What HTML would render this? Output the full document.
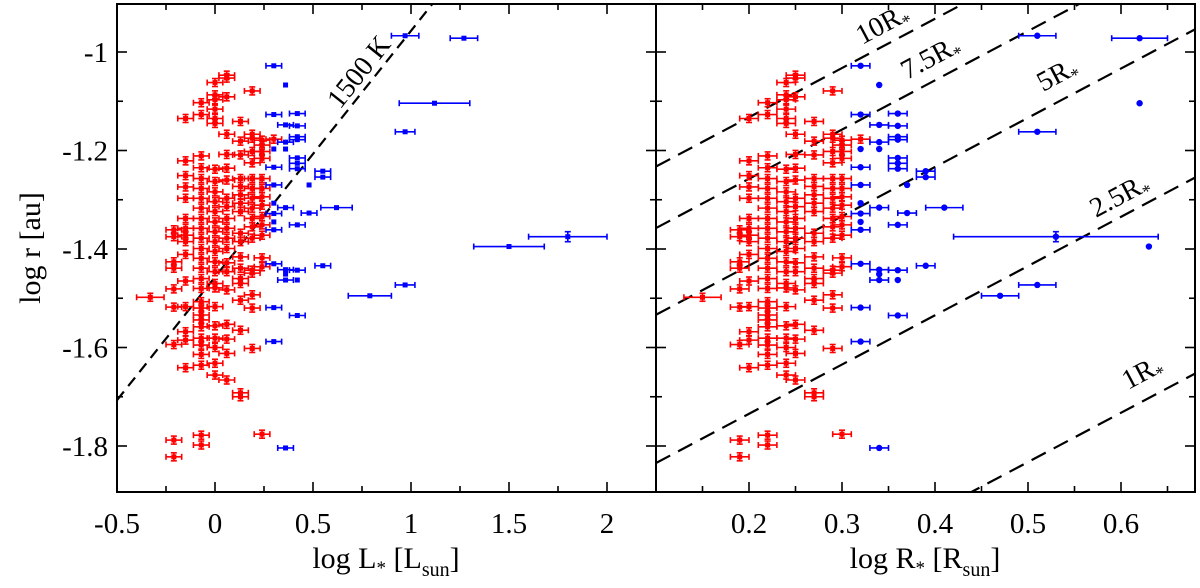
<!DOCTYPE html>
<html><head><meta charset="utf-8"><style>
html,body{margin:0;padding:0;background:#fff;width:1200px;height:588px;overflow:hidden;}
svg{display:block;}
svg text{font-family:"Liberation Serif","Times New Roman",serif;}
</style></head><body>
<svg id="chart" width="1200" height="588" viewBox="0 0 1200 588" xmlns="http://www.w3.org/2000/svg" font-family="Liberation Serif, serif">
<g id="marks"></g>
<g id="frame"></g>
<g id="labels">
<text transform="translate(40,248) rotate(-90)" text-anchor="middle" font-size="30">log r [au]</text>
<text x="386" y="568" text-anchor="middle" font-size="30">log L<tspan font-size="19" dy="6">*</tspan><tspan dy="-6"> [L</tspan><tspan font-size="20" dy="8">sun</tspan><tspan dy="-8">]</tspan></text>
<text x="925" y="568" text-anchor="middle" font-size="30">log R<tspan font-size="19" dy="6">*</tspan><tspan dy="-6"> [R</tspan><tspan font-size="20" dy="8">sun</tspan><tspan dy="-8">]</tspan></text>
</g>
</svg>
<script>
// ---- data ----
const redLogL = [
 0.06,0.06,0,0.19,0.06,0,0,-0.07,0,-0.15,-0.07,0,0,0.13,0.06,0.19,0.13,0.19,0.24,0.30,0.24,0.24,0.19,0.13,0.06,-0.07,-0.15,-0.07,0,0.06,0.24,0.19,-0.15,-0.15,-0.15,
 -0.07,-0.07,-0.07,-0.07,-0.07,-0.07,-0.07,-0.07,-0.07,-0.07,-0.07,
 0,0,0,0,0,0,0,0,0,0,0,
 0.06,0.06,0.06,0.06,0.06,0.06,0.06,0.06,0.06,
 0.13,0.13,0.13,0.13,0.13,0.13,0.13,0.13,0.13,0.13,0.13,
 0.19,0.19,0.19,0.19,0.19,0.19,0.19,0.19,0.19,0.19,0.19,
 0.24,0.24,0.24,0.24,0.24,0.24,0.24,0.24,0.24,
 -0.15,-0.15,-0.15,-0.15,-0.15,-0.15,-0.15,-0.15,-0.15,-0.15,
 -0.21,-0.21,-0.21,-0.21,-0.21,-0.21,-0.21,-0.21,-0.21,
 -0.33,
 -0.07,-0.07,-0.07,-0.07,-0.07,-0.07,-0.07,-0.07,-0.07,-0.07,-0.07,-0.07,
 0,0,0,0,0,0,0,
 0.06,0.06,0.06,0.06,0.06,
 0.13,0.13,0.13,0.13,
 0.19,
 0.24
];
const redLogR = [
 0.25,0.25,0.24,0.29,0.25,0.24,0.24,0.22,0.24,0.20,0.22,0.24,0.24,0.27,0.25,0.29,0.27,0.29,0.30,0.32,0.30,0.30,0.29,0.27,0.25,0.22,0.20,0.22,0.24,0.25,0.30,0.29,0.20,0.20,0.20,
 0.22,0.22,0.22,0.22,0.22,0.22,0.22,0.22,0.22,0.22,0.22,
 0.24,0.24,0.24,0.24,0.24,0.24,0.24,0.24,0.24,0.24,0.24,
 0.25,0.25,0.25,0.25,0.25,0.25,0.25,0.25,0.25,
 0.27,0.27,0.27,0.27,0.27,0.27,0.27,0.27,0.27,0.27,0.27,
 0.29,0.29,0.29,0.29,0.29,0.29,0.29,0.29,0.29,0.29,0.29,
 0.30,0.30,0.30,0.30,0.30,0.30,0.30,0.30,0.30,
 0.20,0.20,0.20,0.20,0.20,0.20,0.20,0.20,0.20,0.20,
 0.19,0.19,0.19,0.19,0.19,0.19,0.19,0.19,0.19,
 0.15,
 0.22,0.22,0.22,0.22,0.22,0.22,0.22,0.22,0.22,0.22,0.22,0.22,
 0.24,0.24,0.24,0.24,0.24,0.24,0.24,
 0.25,0.25,0.25,0.25,0.25,
 0.27,0.27,0.27,0.27,
 0.29,
 0.30
];
const redLogr = [
 -1.047,-1.053,-1.062,-1.079,-1.091,-1.087,-1.097,-1.103,-1.116,-1.135,-1.127,-1.135,-1.145,-1.141,-1.167,-1.167,-1.181,-1.175,-1.179,-1.177,-1.189,-1.202,-1.202,-1.209,-1.208,-1.211,-1.221,-1.235,-1.238,-1.236,-1.216,-1.225,-1.251,-1.274,-1.297,
 -1.257,-1.277,-1.297,-1.317,-1.338,-1.358,-1.378,-1.399,-1.419,-1.439,-1.460,
 -1.263,-1.284,-1.304,-1.324,-1.345,-1.365,-1.385,-1.405,-1.426,-1.446,-1.470,
 -1.260,-1.297,-1.314,-1.338,-1.358,-1.378,-1.399,-1.428,-1.446,
 -1.257,-1.273,-1.290,-1.307,-1.324,-1.368,-1.385,-1.416,-1.439,-1.460,-1.470,
 -1.257,-1.277,-1.297,-1.317,-1.338,-1.355,-1.378,-1.443,-1.449,-1.493,-1.520,
 -1.257,-1.277,-1.294,-1.311,-1.334,-1.351,-1.372,-1.418,-1.436,
 -1.338,-1.358,-1.372,-1.385,-1.411,-1.465,-1.517,-1.568,-1.585,-1.641,
 -1.361,-1.375,-1.426,-1.439,-1.481,-1.518,-1.594,-1.788,-1.822,
 -1.498,
 -1.480,-1.507,-1.520,-1.534,-1.544,-1.558,-1.581,-1.595,-1.614,-1.636,-1.778,-1.798,
 -1.479,-1.517,-1.556,-1.581,-1.600,-1.632,-1.656,
 -1.483,-1.553,-1.583,-1.612,-1.666,
 -1.504,-1.565,-1.692,-1.700,
 -1.602,
 -1.776
];
const blueLogL = [0.30,0.36,0.30,0.42,0.36,0.42,0.42,0.42,0.36,0.30,0.36,0.42,0.42,0.42,0.30,0.55,0.55,0.48,0.30,0.30,0.36,0.48,0.62,0.30,0.30,0.30,0.42,0.30,0.36,0.36,0.42,0.55,0.36,0.42,0.30,0.42,0.30,0.36,0.97,0.97,0.97,0.79,1.27,1.12,1.50,1.80];
const blueLogR = [0.32,0.34,0.32,0.36,0.34,0.36,0.36,0.36,0.34,0.32,0.34,0.36,0.36,0.36,0.32,0.39,0.39,0.37,0.32,0.32,0.34,0.37,0.41,0.32,0.32,0.32,0.36,0.32,0.34,0.34,0.36,0.39,0.34,0.36,0.32,0.36,0.32,0.34,0.51,0.51,0.51,0.47,0.62,0.62,0.63,0.53];
const blueLogr = [-1.028,-1.067,-1.127,-1.125,-1.148,-1.150,-1.172,-1.178,-1.183,-1.197,-1.197,-1.215,-1.226,-1.237,-1.234,-1.242,-1.254,-1.270,-1.270,-1.307,-1.316,-1.327,-1.316,-1.328,-1.345,-1.361,-1.351,-1.430,-1.442,-1.451,-1.443,-1.434,-1.463,-1.463,-1.519,-1.535,-1.588,-1.804,-0.967,-1.162,-1.473,-1.495,-0.972,-1.104,-1.395,-1.375];
const blueErrL = [0.04,0,0.04,0.04,0.04,0.04,0.04,0.04,0.04,0,0,0.04,0.04,0.04,0.04,0.04,0.04,0,0.04,0,0.04,0.04,0.08,0.04,0,0.04,0.04,0.04,0.04,0,0.04,0.04,0.04,0,0.04,0.04,0.04,0.04,0.07,0.05,0.05,0.11,0.07,0.18,0.18,0.2];
const blueErrR = [0.01,0,0.01,0.01,0.01,0.01,0.01,0.01,0.01,0,0,0.01,0.01,0.01,0.01,0.01,0.01,0,0.01,0,0.01,0.01,0.02,0.01,0,0.01,0.01,0.01,0.01,0,0.01,0.01,0.01,0,0.01,0.01,0.01,0.01,0.02,0.02,0.02,0.02,0.03,0,0,0.11];
const leftXTicks = [-0.5,0,0.5,1,1.5,2];
const leftXTickLabels = ["-0.5","0","0.5","1","1.5","2"];
const rightXTicks = [0.2,0.3,0.4,0.5,0.6];
const rightXTickLabels = ["0.2","0.3","0.4","0.5","0.6"];
const yTicks = [-1,-1.2,-1.4,-1.6,-1.8];
const yTickLabels = ["-1","-1.2","-1.4","-1.6","-1.8"];
const radiusMultiples = [10,7.5,5,2.5,1];
const radiusLabels = ["10R","7.5R","5R","2.5R","1R"];

// ---- axes ----
const TOP=4, BOT=492, LX0=117, LX1=656, RX1=1195;
const yS = v => 52 + (-1 - v)*492.5;
const xL = v => 215 + v*196;
const xR = v => 749 + (v-0.2)*930;
const LMIN=-0.5, LMAX=(656-215)/196, RMIN=0.2-(749-656)/930, RMAX=0.2+(1195-749)/930;

const NS='http://www.w3.org/2000/svg';
const FONT='Liberation Serif, Times New Roman, serif';
const marks=document.getElementById('marks'), frame=document.getElementById('frame'), labels=document.getElementById('labels');
function mk(tag,attrs,parent){const e=document.createElementNS(NS,tag);for(const k in attrs)e.setAttribute(k,attrs[k]);parent.appendChild(e);return e;}
document.querySelectorAll('#labels text').forEach(t=>t.setAttribute('font-family',FONT));

const defs=mk('defs',{},document.getElementById('chart'));
const c1=mk('clipPath',{id:'clipL'},defs);mk('rect',{x:LX0,y:TOP,width:LX1-LX0,height:BOT-TOP},c1);
const c2=mk('clipPath',{id:'clipR'},defs);mk('rect',{x:LX1,y:TOP,width:RX1-LX1,height:BOT-TOP},c2);
const gL=mk('g',{'clip-path':'url(#clipL)'},marks);
const gR=mk('g',{'clip-path':'url(#clipR)'},marks);

const lineK=mk('line',{x1:xL(LMIN),y1:yS(0.5*LMIN-1.457),x2:xL(LMAX),y2:yS(0.5*LMAX-1.457),stroke:'#000','stroke-width':2.2,'stroke-dasharray':'11,7'},gL);


radiusMultiples.forEach((k,i)=>{
  const c=Math.log10(k*0.00465);
  const l=mk('line',{x1:xR(RMIN),y1:yS(RMIN+c),x2:xR(RMAX),y2:yS(RMAX+c),stroke:'#000','stroke-width':2.2,'stroke-dasharray':'16,9'},gR);
  
  
});

function point(g,x,y,ex,ey,color,shape,name){
  const grp=mk('g',{stroke:color,fill:color,'stroke-width':1.6},g);
  
  
  if(ex>0){mk('line',{x1:x-ex,y1:y,x2:x+ex,y2:y},grp);mk('line',{x1:x-ex,y1:y-3,x2:x-ex,y2:y+3},grp);mk('line',{x1:x+ex,y1:y-3,x2:x+ex,y2:y+3},grp);}
  if(ey>0){mk('line',{x1:x,y1:y-ey,x2:x,y2:y+ey},grp);mk('line',{x1:x-3,y1:y-ey,x2:x+3,y2:y-ey},grp);mk('line',{x1:x-3,y1:y+ey,x2:x+3,y2:y+ey},grp);}
  if(shape==='sq')mk('rect',{x:x-2.5,y:y-2.5,width:5,height:5,stroke:'none'},grp);
  else mk('circle',{cx:x,cy:y,r:shape,stroke:'none'},grp);
}
const RED='#ff0000', BLUE='#0000ff';
redLogr.forEach((r,i)=>{
  const big = redLogL[i] < -0.3;
  point(gL,xL(redLogL[i]),yS(r),(big?0.07:0.04)*196,4,RED,'sq','red-point-left');
  point(gR,xR(redLogR[i]),yS(r),(big?0.02:0.01)*930,4,RED,'sq','red-point-right');
});
blueLogr.forEach((r,i)=>{
  point(gL,xL(blueLogL[i]),yS(r),blueErrL[i]*196,i===45?5:0,BLUE,'sq','blue-point-left');
  point(gR,xR(blueLogR[i]),yS(r),blueErrR[i]*930,i===45?5:0,BLUE,3.2,'blue-point-right');
});

[[LX0,LX1,'left-panel-frame'],[LX1,RX1,'right-panel-frame']].forEach(([a,b,n])=>{
  const r=mk('rect',{x:a,y:TOP,width:b-a,height:BOT-TOP,fill:'none',stroke:'#000','stroke-width':2},frame);
  
  
});
function tick(x1,y1,x2,y2){mk('line',{x1,y1,x2,y2,stroke:'#000','stroke-width':1.6},frame);}
for(let v=-1.8;v<=-0.99;v+=0.1){
  const y=yS(v), major=Math.abs(Math.round(v*10)%2)===0, len=major?10:6;
  tick(LX0,y,LX0+len,y);tick(LX1,y,LX1-len,y);tick(LX1,y,LX1+len,y);tick(RX1,y,RX1-len,y);
}
for(let v=-0.5;v<=2.26;v+=0.25){const x=xL(v),len=Math.abs(v*2-Math.round(v*2))<1e-6?10:6;tick(x,BOT,x,BOT-len);tick(x,TOP,x,TOP+len);}
for(let v=0.15;v<=0.68;v+=0.05){const x=xR(v),len=Math.abs(v*10-Math.round(v*10))<1e-6?10:6;tick(x,BOT,x,BOT-len);tick(x,TOP,x,TOP+len);}

yTicks.forEach((v,i)=>{
  const t=mk('text',{x:108,y:yS(v)+10,'text-anchor':'end','font-size':29,'font-family':FONT},labels);t.textContent=yTickLabels[i];
  
  
});
leftXTicks.forEach((v,i)=>{
  const t=mk('text',{x:xL(v),y:533,'text-anchor':'middle','font-size':29,'font-family':FONT},labels);t.textContent=leftXTickLabels[i];
  
  
});
rightXTicks.forEach((v,i)=>{
  const t=mk('text',{x:xR(v),y:533,'text-anchor':'middle','font-size':29,'font-family':FONT},labels);t.textContent=rightXTickLabels[i];
  
  
});

const k1=mk('text',{transform:'translate(340,110) rotate(-51.5)','font-size':28,'font-family':FONT},labels);k1.textContent='1500 K';


const annPos=[[862,45],[907,80],[1043,92],[1096,218],[1128,390]];
radiusLabels.forEach((s,i)=>{
  const t=mk('text',{transform:`translate(${annPos[i][0]},${annPos[i][1]}) rotate(-28)`,'font-size':28,'font-family':FONT},labels);
  t.textContent=s;
  const sp=mk('tspan',{'font-size':18,dy:6},t);sp.textContent='*';
  
  
});
</script>
</body></html>
